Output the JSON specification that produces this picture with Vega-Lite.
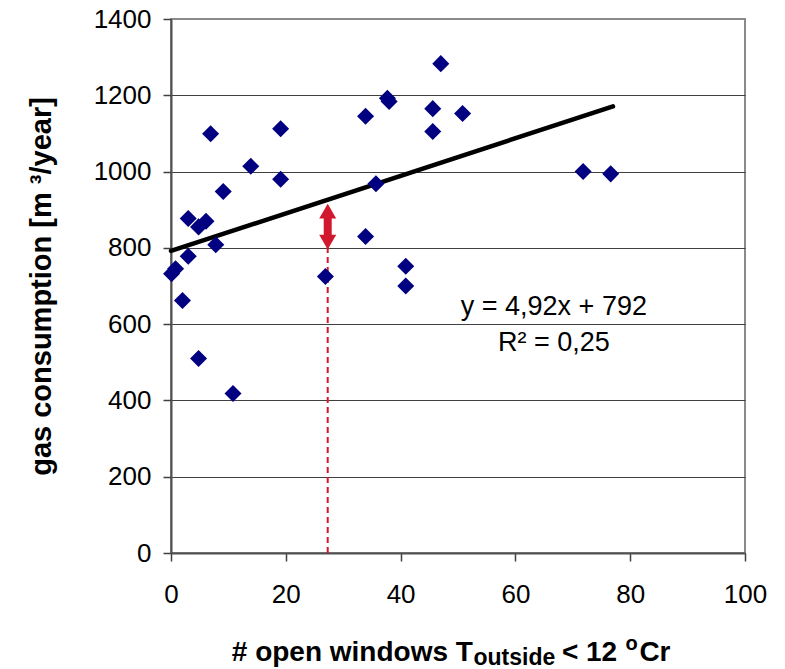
{
  "$schema": "https://vega.github.io/schema/vega-lite/v6.json",
  "width": 574,
  "height": 534,
  "autosize": {"type": "none"},
  "padding": {"left": 171, "top": 19, "right": 40, "bottom": 116},
  "background": "white",
  "config": {
    "font": "Liberation Sans",
    "view": {"stroke": "#8a8a8a", "strokeWidth": 2},
    "axis": {"labelFont": "Liberation Sans", "titleFont": "Liberation Sans", "labelColor": "black", "titleColor": "black"}
  },
  "datasets": {
    "pts": [
      {"x": 0.1, "y": 732}, {"x": 0.8, "y": 745}, {"x": 2.0, "y": 662}, {"x": 3.0, "y": 778},
      {"x": 3.0, "y": 877}, {"x": 4.8, "y": 855}, {"x": 6.1, "y": 870}, {"x": 7.8, "y": 808},
      {"x": 6.9, "y": 1099}, {"x": 9.1, "y": 948}, {"x": 13.9, "y": 1014}, {"x": 19.1, "y": 1112},
      {"x": 19.1, "y": 980}, {"x": 4.8, "y": 510}, {"x": 10.8, "y": 418}, {"x": 26.9, "y": 725},
      {"x": 33.9, "y": 1145}, {"x": 33.9, "y": 830}, {"x": 35.7, "y": 968}, {"x": 37.7, "y": 1192},
      {"x": 38.0, "y": 1184}, {"x": 40.9, "y": 752}, {"x": 40.9, "y": 700}, {"x": 45.6, "y": 1165},
      {"x": 45.6, "y": 1105}, {"x": 47.0, "y": 1283}, {"x": 50.8, "y": 1152}, {"x": 71.8, "y": 1000},
      {"x": 76.6, "y": 994}
    ],
    "trend": [{"x": 0, "y": 792}, {"x": 77, "y": 1170.8}]
  },
  "layer": [
    {
      "data": {"values": [{"x": 27.3, "y": 0, "y2": 805}]},
      "mark": {"type": "rule", "color": "#d2182c", "strokeWidth": 2, "strokeDash": [6, 4]},
      "encoding": {
        "x": {"field": "x", "type": "quantitative", "scale": {"domain": [0, 100], "nice": false, "zero": false},
          "axis": {"values": [0, 20, 40, 60, 80, 100], "grid": false, "domainColor": "#505050", "domainWidth": 2,
            "tickColor": "#404040", "tickSize": 8, "tickWidth": 1.5, "labelFontSize": 26, "labelPadding": 20,
            "labelOverlap": false, "labelFlush": false, "format": "d", "title": null}},
        "y": {"field": "y", "type": "quantitative", "scale": {"domain": [0, 1400], "nice": false, "zero": false},
          "axis": {"values": [0, 200, 400, 600, 800, 1000, 1200, 1400], "grid": true, "format": "d",
            "gridColor": {"condition": {"test": "datum.value === 1400", "value": "#8a8a8a"}, "value": "#404040"},
            "gridWidth": 1, "domainColor": "#505050", "domainWidth": 2, "tickColor": "#404040", "tickSize": 8,
            "tickWidth": 1.5, "labelFontSize": 26, "labelPadding": 12, "labelOverlap": false, "labelFlush": false,
            "title": "gas consumption [m ³/year]", "titleFontSize": 29, "titleFontWeight": "bold", "titlePadding": 37}},
        "y2": {"field": "y2"}
      }
    },
    {
      "data": {"name": "trend"},
      "mark": {"type": "line", "color": "black", "strokeWidth": 4.5, "strokeCap": "round"},
      "encoding": {
        "x": {"field": "x", "type": "quantitative", "scale": {"domain": [0, 100], "nice": false, "zero": false}},
        "y": {"field": "y", "type": "quantitative", "scale": {"domain": [0, 1400], "nice": false, "zero": false}}
      }
    },
    {
      "data": {"name": "pts"},
      "mark": {"type": "point", "shape": "diamond", "filled": true, "size": 290, "color": "#000080", "opacity": 1},
      "encoding": {
        "x": {"field": "x", "type": "quantitative", "scale": {"domain": [0, 100], "nice": false, "zero": false}},
        "y": {"field": "y", "type": "quantitative", "scale": {"domain": [0, 1400], "nice": false, "zero": false}}
      }
    },
    {
      "data": {"values": [{"x": 27.3, "y": 820, "y2": 892}]},
      "mark": {"type": "rule", "color": "#d2182c", "strokeWidth": 8},
      "encoding": {
        "x": {"field": "x", "type": "quantitative", "scale": {"domain": [0, 100], "nice": false, "zero": false}},
        "y": {"field": "y", "type": "quantitative", "scale": {"domain": [0, 1400], "nice": false, "zero": false}},
        "y2": {"field": "y2"}
      }
    },
    {
      "data": {"values": [{"x": 27.3, "y": 896.5}]},
      "mark": {"type": "point", "shape": "triangle-up", "filled": true, "size": 289, "color": "#d2182c", "opacity": 1},
      "encoding": {
        "x": {"field": "x", "type": "quantitative", "scale": {"domain": [0, 100], "nice": false, "zero": false}},
        "y": {"field": "y", "type": "quantitative", "scale": {"domain": [0, 1400], "nice": false, "zero": false}}
      }
    },
    {
      "data": {"values": [{"x": 27.3, "y": 815}]},
      "mark": {"type": "point", "shape": "triangle-down", "filled": true, "size": 289, "color": "#d2182c", "opacity": 1},
      "encoding": {
        "x": {"field": "x", "type": "quantitative", "scale": {"domain": [0, 100], "nice": false, "zero": false}},
        "y": {"field": "y", "type": "quantitative", "scale": {"domain": [0, 1400], "nice": false, "zero": false}}
      }
    },
    {
      "data": {"values": [{"x": 66.7, "y": 645, "t": "y = 4,92x + 792"}, {"x": 66.7, "y": 550.6, "t": "R² = 0,25"}]},
      "mark": {"type": "text", "fontSize": 27, "align": "center", "baseline": "middle", "color": "black"},
      "encoding": {
        "x": {"field": "x", "type": "quantitative", "scale": {"domain": [0, 100], "nice": false, "zero": false}},
        "y": {"field": "y", "type": "quantitative", "scale": {"domain": [0, 1400], "nice": false, "zero": false}},
        "text": {"field": "t"}
      }
    },
    {
      "data": {"values": [{"x": 52.6, "y": -282.4, "t": "# open windows T"}]},
      "mark": {"type": "text", "fontSize": 28, "fontWeight": "bold", "align": "right", "baseline": "alphabetic", "color": "black"},
      "encoding": {
        "x": {"field": "x", "type": "quantitative", "scale": {"domain": [0, 100], "nice": false, "zero": false}},
        "y": {"field": "y", "type": "quantitative", "scale": {"domain": [0, 1400], "nice": false, "zero": false}},
        "text": {"field": "t"}
      }
    },
    {
      "data": {"values": [{"x": 52.7, "y": -294, "t": "outside"}]},
      "mark": {"type": "text", "fontSize": 23, "fontWeight": "bold", "align": "left", "baseline": "alphabetic", "color": "black"},
      "encoding": {
        "x": {"field": "x", "type": "quantitative", "scale": {"domain": [0, 100], "nice": false, "zero": false}},
        "y": {"field": "y", "type": "quantitative", "scale": {"domain": [0, 1400], "nice": false, "zero": false}},
        "text": {"field": "t"}
      }
    },
    {
      "data": {"values": [{"x": 68.1, "y": -282.4, "t": "< 12"}, {"x": 81.6, "y": -282.4, "t": "Cr"}]},
      "mark": {"type": "text", "fontSize": 28, "fontWeight": "bold", "align": "left", "baseline": "alphabetic", "color": "black"},
      "encoding": {
        "x": {"field": "x", "type": "quantitative", "scale": {"domain": [0, 100], "nice": false, "zero": false}},
        "y": {"field": "y", "type": "quantitative", "scale": {"domain": [0, 1400], "nice": false, "zero": false}},
        "text": {"field": "t"}
      }
    },
    {
      "data": {"values": [{"x": 79.2, "y": -255.6, "t": "o"}]},
      "mark": {"type": "text", "fontSize": 20, "fontWeight": "bold", "align": "left", "baseline": "alphabetic", "color": "black"},
      "encoding": {
        "x": {"field": "x", "type": "quantitative", "scale": {"domain": [0, 100], "nice": false, "zero": false}},
        "y": {"field": "y", "type": "quantitative", "scale": {"domain": [0, 1400], "nice": false, "zero": false}},
        "text": {"field": "t"}
      }
    }
  ]
}
